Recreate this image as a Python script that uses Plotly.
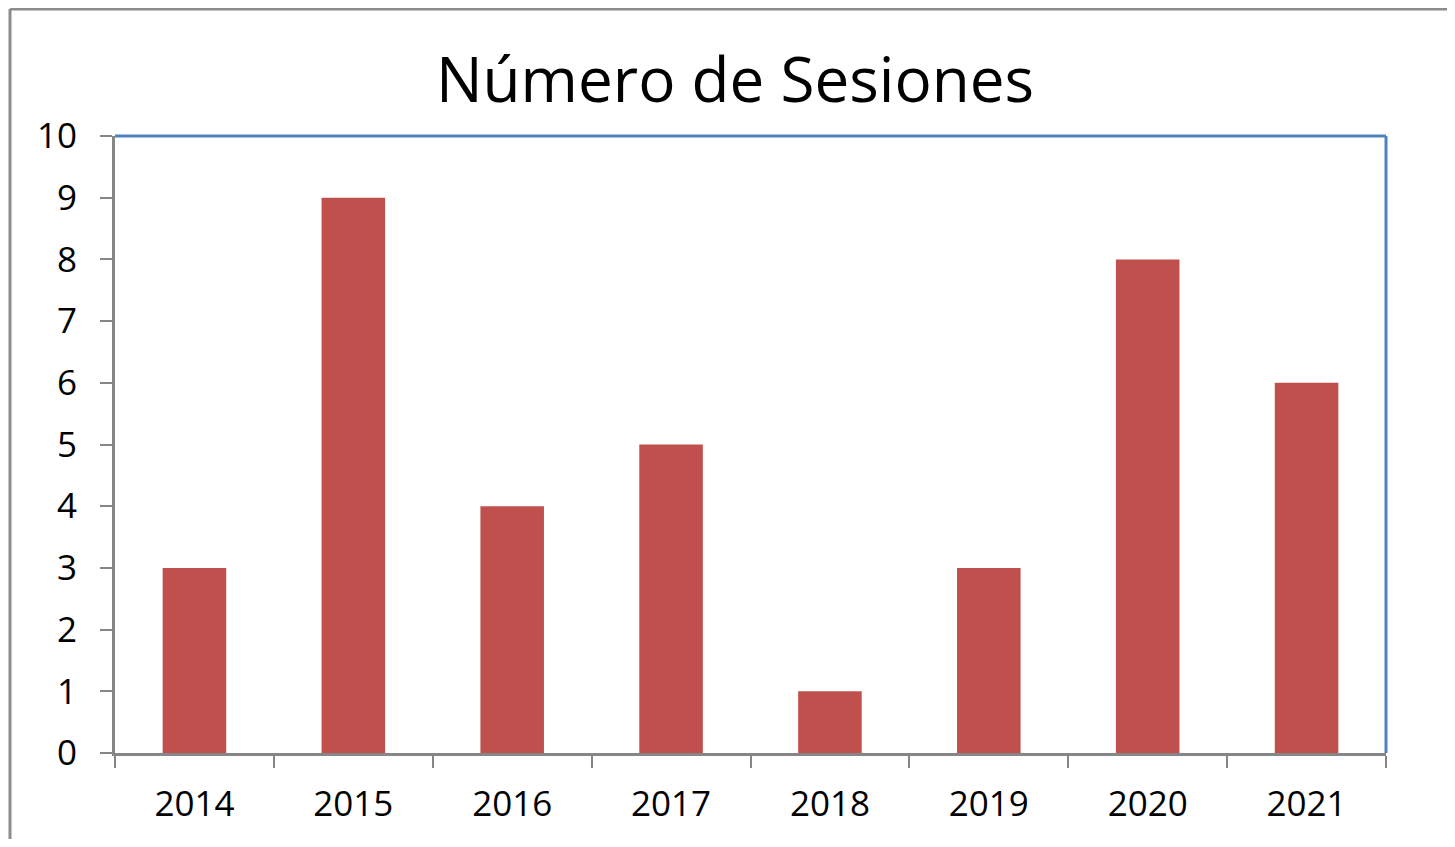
import plotly.graph_objects as go

# Data
years = ["2014", "2015", "2016", "2017", "2018", "2019", "2020", "2021"]
sesiones = [3, 9, 4, 5, 1, 3, 8, 6]

# keep the figure a bit smaller than the window so no scrollbars appear
# (the page has an 8px body margin)
W, H = 1439, 831
L, R, T, B = 107, 61, 128, 86
PW, PH = W - L - R, H - T - B

fig = go.Figure()
fig.add_trace(go.Bar(
    x=years,
    y=sesiones,
    marker=dict(color="#C0504D", line=dict(width=0)),
))

axis_grey = "#868686"
frame_x0 = (2 - L) / PW
frame_y1 = 1 + (T - 1) / PH
fig.update_layout(
    width=W,
    height=H,
    margin=dict(l=L, r=R, t=T, b=B),
    paper_bgcolor="white",
    plot_bgcolor="white",
    bargap=0.6,
    showlegend=False,
    font=dict(family="Open Sans", color="black"),
    title=dict(
        text="Número de Sesiones",
        x=(735 - 8) / W, xanchor="center",
        y=1 - 72 / H, yanchor="middle",
        font=dict(size=62, family="Open Sans", color="black"),
    ),
    xaxis=dict(
        showline=True, linecolor=axis_grey, linewidth=3,
        ticks="outside", tickson="boundaries", ticklen=12,
        tickwidth=2, tickcolor=axis_grey,
        tickfont=dict(size=35),
        ticklabelstandoff=18,
        showgrid=False, zeroline=False,
    ),
    yaxis=dict(
        range=[0, 10], dtick=1,
        showline=True, linecolor=axis_grey, linewidth=3,
        ticks="outside", ticklen=12, tickwidth=2, tickcolor=axis_grey,
        tickfont=dict(size=35),
        ticklabelstandoff=16,
        showgrid=False, zeroline=False,
    ),
    shapes=[
        # blue top / right border of the plot area
        dict(type="line", xref="paper", yref="paper", x0=0, x1=1, y0=1, y1=1,
             line=dict(color="#4F81BD", width=3)),
        dict(type="line", xref="paper", yref="paper", x0=1, x1=1, y0=0, y1=1,
             line=dict(color="#4F81BD", width=3)),
        # outer chart frame: only its left and top edges show
        dict(type="line", xref="paper", yref="paper",
             x0=frame_x0, x1=frame_x0, y0=-(B + 20) / PH, y1=frame_y1,
             line=dict(color="#8C8C8C", width=3)),
        dict(type="line", xref="paper", yref="paper",
             x0=frame_x0, x1=(W + 20 - L) / PW, y0=frame_y1, y1=frame_y1,
             line=dict(color="#8C8C8C", width=3)),
    ],
)

fig.write_html("out.html")
